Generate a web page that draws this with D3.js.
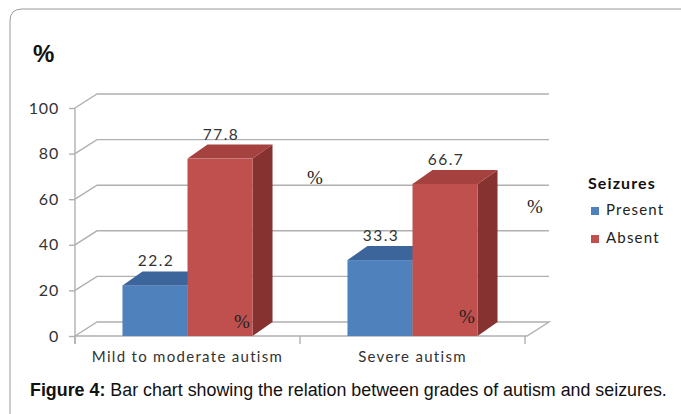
<!DOCTYPE html>
<html>
<head>
<meta charset="utf-8">
<script src="https://cdn.jsdelivr.net/npm/d3@7/dist/d3.min.js"></script>
<style>
html,body{margin:0;padding:0;background:#fff;}
svg{display:block;}
</style>
</head>
<body>
<svg id="chart" width="681" height="414"></svg>
<script>
const categories = ["Mild to moderate autism", "Severe autism"];
const seriesNames = ["Present", "Absent"];
const present = [22.2, 33.3];
const absent = [77.8, 66.7];
const yTicks = [0, 20, 40, 60, 80, 100];
const legendTitle = "Seizures";
const axisTitle = "%";
const captionBold = "Figure 4:";
const captionText = " Bar chart showing the relation between grades of autism and seizures.";

const colors = {
  Present: {front: "#4f81bd", top: "#3c659b", side: "#375e8f"},
  Absent:  {front: "#c0504d", top: "#a5413e", side: "#853230"}
};

(function () {
const svg = d3.select("#chart");
const font = "Lato, 'Open Sans', sans-serif";

// frame
svg.append("path")
  .attr("d", "M10,414 L10,21 Q10,9 22,9 L681,9")
  .attr("fill", "none").attr("stroke", "#9a9a9a").attr("stroke-width", 1);

const pLeft = 75, pRight = 525, pBottom = 336, pTop = 108;
const wdx = 22, wdy = -14;   // wall depth
const bdx = 20, bdy = -14;   // bar depth

const x0 = d3.scaleBand().domain(categories).range([pLeft, pRight]).paddingInner(0).paddingOuter(0);
const x1 = d3.scaleBand().domain(seriesNames).range([0, x0.bandwidth()]).paddingInner(0).paddingOuter(0.73);
const y = d3.scaleLinear().domain([0, 100]).range([pBottom, pTop]);

const gridColor = "#b0b0b0";
const grid = svg.append("g");
yTicks.forEach(t => {
  const yy = y(t);
  if (t > 0) {
    grid.append("path")
      .attr("d", `M${pLeft},${yy} L${pLeft + wdx},${yy + wdy} L${pRight + wdx + 2},${yy + wdy}`)
      .attr("fill", "none").attr("stroke", gridColor).attr("stroke-width", 1.4);
  }
});
// floor
grid.append("path")
  .attr("d", `M${pLeft},${pBottom} L${pLeft + wdx},${pBottom + wdy} L${pRight + wdx + 2},${pBottom + wdy} L${pRight + 2},${pBottom} Z`)
  .attr("fill", "none").attr("stroke", gridColor).attr("stroke-width", 1.4);

// y axis
const yAxis = d3.axisLeft(y).tickValues(yTicks).tickSize(6).tickPadding(10).tickSizeOuter(0);
const ga = svg.append("g").attr("transform", `translate(${pLeft},0)`).call(yAxis);
ga.select(".domain").attr("stroke", gridColor).attr("stroke-width", 1.4)
  .attr("d", `M0,${pTop}V${pBottom + 8}`);
ga.selectAll(".tick line").attr("stroke", gridColor).attr("stroke-width", 1.4);
ga.selectAll(".tick text").attr("font-family", font).attr("font-size", 16)
  .attr("letter-spacing", 0.8).attr("fill", "#333");

// category ticks
const catEdges = categories.map(c => x0(c) + x0.bandwidth()).concat([x0(categories[0])]);
catEdges.forEach(xx => {
  svg.append("line").attr("x1", xx).attr("x2", xx).attr("y1", pBottom).attr("y2", pBottom + 8)
    .attr("stroke", gridColor).attr("stroke-width", 1.4);
});
categories.forEach(c => {
  svg.append("text").attr("x", x0(c) + x0.bandwidth() / 2).attr("y", 362)
    .attr("text-anchor", "middle").attr("font-family", font).attr("font-size", 15)
    .attr("letter-spacing", 1.3).attr("fill", "#333").text(c);
});

// bars
const bars = svg.append("g");
categories.forEach((c, i) => {
  const vals = {Present: present[i], Absent: absent[i]};
  seriesNames.forEach(s => {
    const v = vals[s];
    const xa = x0(c) + x1(s), xb = xa + x1.bandwidth();
    const yt = y(v), yb = y(0);
    const col = colors[s];
    bars.append("path")
      .attr("d", `M${xb},${yt} L${xb + bdx},${yt + bdy} L${xb + bdx},${yb + bdy} L${xb},${yb} Z`)
      .attr("fill", col.side);
    bars.append("rect").attr("x", xa).attr("y", yt).attr("width", xb - xa).attr("height", yb - yt)
      .attr("fill", col.front);
    bars.append("path")
      .attr("d", `M${xa},${yt} L${xa + bdx},${yt + bdy} L${xb + bdx},${yt + bdy} L${xb},${yt} Z`)
      .attr("fill", col.top);
  });
  seriesNames.forEach(s => {
    const v = vals[s];
    const xa = x0(c) + x1(s);
    svg.append("text").attr("x", xa + x1.bandwidth() / 2 + 1).attr("y", y(v) - 19)
      .attr("text-anchor", "middle").attr("font-family", font).attr("font-size", 15.5)
      .attr("letter-spacing", 1.5).attr("fill", "#333").text(v.toFixed(1));
  });
});

// stray percent signs
const strayPct = [[315, 184], [242, 328], [535, 213], [467, 323]];
strayPct.forEach(p => {
  svg.append("text").attr("x", p[0]).attr("y", p[1]).attr("text-anchor", "middle")
    .attr("font-family", "'Liberation Serif', 'Times New Roman', serif").attr("font-size", 19)
    .attr("fill", "#222").text("%");
});

// axis title
svg.append("text").attr("x", 33).attr("y", 62).attr("font-family", "'Liberation Sans', Arial, sans-serif")
  .attr("font-size", 24).attr("font-weight", "bold").attr("fill", "#111").text(axisTitle);

// legend
const lg = svg.append("g");
lg.append("text").attr("x", 588).attr("y", 189).attr("font-family", font).attr("font-weight", "bold")
  .attr("font-size", 16).attr("letter-spacing", 1.1).attr("fill", "#111").text(legendTitle);
seriesNames.forEach((s, i) => {
  const yy = 215 + i * 28;
  lg.append("rect").attr("x", 591).attr("y", yy - 8).attr("width", 8).attr("height", 8).attr("fill", colors[s].front);
  lg.append("text").attr("x", 606).attr("y", yy).attr("font-family", font).attr("font-size", 15)
    .attr("letter-spacing", 1.2).attr("fill", "#222").text(s);
});

// caption
const cap = svg.append("text").attr("x", 30).attr("y", 396)
  .attr("font-family", "'Liberation Sans', Arial, sans-serif").attr("font-size", 17.85).attr("fill", "#111");
cap.append("tspan").attr("font-weight", "bold").text(captionBold);
cap.append("tspan").text(captionText);
})();
</script>
</body>
</html>
